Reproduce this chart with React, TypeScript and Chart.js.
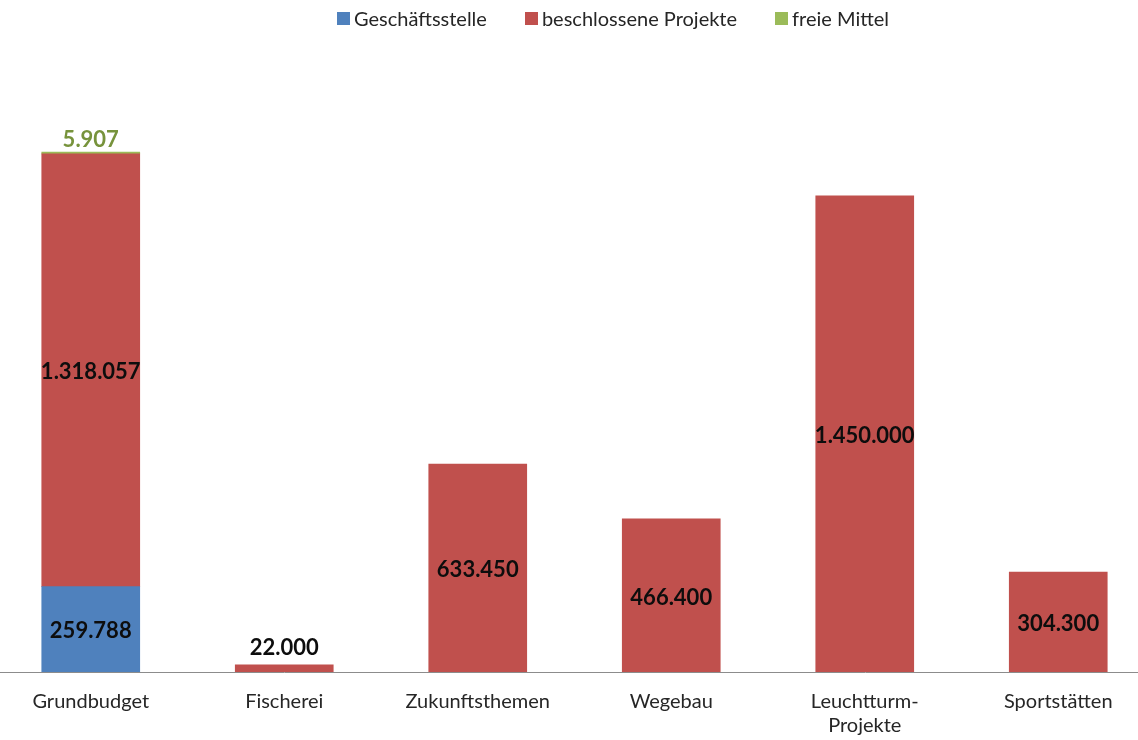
import React, { useEffect, useRef } from "react";
import { Chart, registerables } from "chart.js";

Chart.register(...registerables);

const categories: (string | string[])[] = [
  "Grundbudget",
  "Fischerei",
  "Zukunftsthemen",
  "Wegebau",
  ["Leuchtturm-", "Projekte"],
  "Sportstätten",
];
const geschaeftsstelle = [259788, null, null, null, null, null];
const beschlosseneProjekte = [1318057, 22000, 633450, 466400, 1450000, 304300];
const freieMittel = [5907, null, null, null, null, null];

const seriesNames = ["Geschäftsstelle", "beschlossene Projekte", "freie Mittel"];
const seriesColors = ["#4F81BD", "#C0504D", "#9BBB59"];
const yMax = 1800000;

const FONT = "Lato, 'Open Sans', sans-serif";

function fmt(n: number): string {
  return String(n).replace(/\B(?=(\d{3})+(?!\d))/g, ".");
}

const labelPlugin = {
  id: "valueLabels",
  afterDatasetsDraw(chart: any) {
    const ctx = chart.ctx;
    ctx.save();
    ctx.font = `bold 22px ${FONT}`;
    ctx.textAlign = "center";
    chart.data.datasets.forEach((ds: any, di: number) => {
      const meta = chart.getDatasetMeta(di);
      meta.data.forEach((el: any, i: number) => {
        const v = ds.data[i];
        if (v == null || v === 0) return;
        const h = Math.abs(el.base - el.y);
        const isTop = di === 2;
        if (isTop || h < 30) {
          ctx.fillStyle = isTop ? "#77933C" : "#0D0D0D";
          ctx.textBaseline = "bottom";
          ctx.fillText(fmt(v), el.x, el.y - (isTop ? 1 : 6));
        } else {
          ctx.fillStyle = "#0D0D0D";
          ctx.textBaseline = "middle";
          ctx.fillText(fmt(v), el.x, (el.y + el.base) / 2 + 2);
        }
      });
    });
    ctx.restore();
  },
};

export default function App() {
  const ref = useRef<HTMLCanvasElement | null>(null);

  useEffect(() => {
    if (!ref.current) return;
    const chart = new Chart(ref.current, {
      type: "bar",
      data: {
        labels: categories as any,
        datasets: [
          { label: seriesNames[0], data: geschaeftsstelle as any, backgroundColor: seriesColors[0] },
          { label: seriesNames[1], data: beschlosseneProjekte, backgroundColor: seriesColors[1] },
          { label: seriesNames[2], data: freieMittel as any, backgroundColor: seriesColors[2] },
        ],
      },
      options: {
        animation: false,
        responsive: false,
        devicePixelRatio: 1,
        layout: { padding: { top: 81, left: 0, right: 0, bottom: 0 } },
        datasets: { bar: { barThickness: 98 } } as any,
        plugins: {
          legend: { display: false },
          tooltip: { enabled: false },
        },
        scales: {
          x: {
            stacked: true,
            grid: { display: false, drawTicks: false },
            border: { display: true, color: "#8C8C8C", width: 1 },
            ticks: {
              color: "#262626",
              font: { family: FONT, size: 20, lineHeight: 1.2 },
              padding: 18,
              maxRotation: 0,
              autoSkip: false,
            },
            afterFit(scale: any) {
              scale.height = 68;
            },
          },
          y: {
            stacked: true,
            display: false,
            min: 0,
            max: yMax,
          },
        },
      },
      plugins: [labelPlugin],
    });
    (document as any).fonts?.load?.(`20px Lato`).then(() => chart.update());
    return () => chart.destroy();
  }, []);

  return (
    <div
      style={{
        position: "fixed",
        left: 0,
        top: 0,
        width: 1138,
        height: 740,
        overflow: "hidden",
        background: "#fff",
      }}
    >
      <div style={{ position: "absolute", left: -6, top: 0, width: 1161, height: 740 }}>
        <canvas ref={ref} width={1161} height={740} style={{ width: 1161, height: 740 }} />
      </div>
      <div
        style={{
          position: "absolute",
          left: 337,
          top: 6,
          display: "flex",
          gap: 38,
          fontFamily: FONT,
          fontSize: 20,
          lineHeight: "24px",
          color: "#262626",
          whiteSpace: "nowrap",
        }}
      >
        {seriesNames.map((n, i) => (
          <div key={n} style={{ display: "flex", alignItems: "center" }}>
            <span
              style={{
                display: "inline-block",
                width: 13,
                height: 13,
                background: seriesColors[i],
                marginRight: 4,
              }}
            />
            <span>{n}</span>
          </div>
        ))}
      </div>
    </div>
  );
}
